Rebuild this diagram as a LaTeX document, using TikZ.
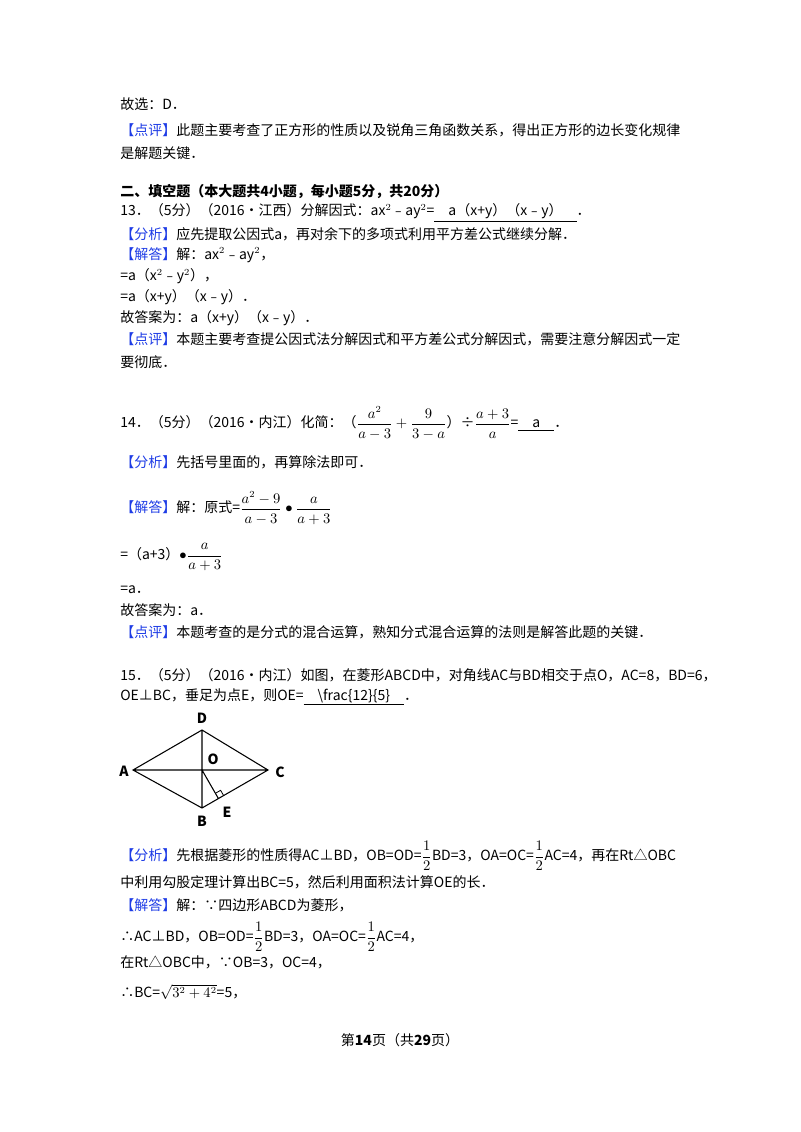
\documentclass[tikz,border=0pt]{standalone}
\usepackage{amsmath}
\usepackage{fontspec}
\setmainfont{Noto Sans CJK SC}
\definecolor{lblue}{RGB}{30,60,230}
\newcommand{\lab}[1]{\textcolor{lblue}{【#1】}}
\begin{document}
\begin{tikzpicture}[x=0.75pt,y=-0.75pt,
  tx/.style={anchor=west,inner sep=0pt,font=\fontsize{10.5}{13}\selectfont},
  pt/.style={font=\fontsize{10.5}{12}\selectfont\itshape\bfseries,inner sep=1pt}]
\useasboundingbox[fill=white] (0,0) rectangle (800,1132);
\node[tx] (l1) at (120,104) {故选：D．};
\node[tx] (l2) at (120,130) {\lab{点评}此题主要考查了正方形的性质以及锐角三角函数关系，得出正方形的边长变化规律};
\node[tx] (l3) at (120,153) {是解题关键．};
\node[tx] (l4) at (120,192) {\textbf{二、填空题（本大题共4小题，每小题5分，共20分）}};
\node[tx] (l5) at (120,213) {13．（5分）（2016•江西）分解因式：ax$^2$﹣ay$^2$=\underline{\quad a（x+y）（x﹣y）\quad}．};
\node[tx] (l6) at (120,234) {\lab{分析}应先提取公因式a，再对余下的多项式利用平方差公式继续分解．};
\node[tx] (l7) at (120,255) {\lab{解答}解：ax$^2$﹣ay$^2$，};
\node[tx] (l8) at (120,276) {=a（x$^2$﹣y$^2$），};
\node[tx] (l9) at (120,297) {=a（x+y）（x﹣y）．};
\node[tx] (l10) at (120,318) {故答案为：a（x+y）（x﹣y）．};
\node[tx] (l11) at (120,339) {\lab{点评}本题主要考查提公因式法分解因式和平方差公式分解因式，需要注意分解因式一定};
\node[tx] (l12) at (120,362) {要彻底．};
\node[tx] (l13) at (120,423) {14．（5分）（2016•内江）化简：（$\dfrac{a^2}{a-3}+\dfrac{9}{3-a}$）÷$\dfrac{a+3}{a}$=\underline{\quad a\quad}．};
\node[tx] (l14) at (120,462) {\lab{分析}先括号里面的，再算除法即可．};
\node[tx] (l15) at (120,508) {\lab{解答}解：原式=$\dfrac{a^2-9}{a-3}\bullet\dfrac{a}{a+3}$};
\node[tx] (l16) at (120,557) {=（a+3）$\bullet\dfrac{a}{a+3}$};
\node[tx] (l17) at (120,590) {=a．};
\node[tx] (l18) at (120,610) {故答案为：a．};
\node[tx] (l19) at (120,632) {\lab{点评}本题考查的是分式的混合运算，熟知分式混合运算的法则是解答此题的关键．};
\node[tx] (l20) at (120,675) {15．（5分）（2016•内江）如图，在菱形ABCD中，对角线AC与BD相交于点O，AC=8，BD=6，};
\node[tx] (l21) at (120,697) {OE⊥BC，垂足为点E，则OE=\underline{\quad\textbackslash frac\{12\}\{5\}\quad}．};
\coordinate (A) at (133,770);
\coordinate (C) at (268,770);
\coordinate (D) at (202,730);
\coordinate (B) at (202,808);
\coordinate (O) at (202,770);
\coordinate (E) at (218.4,798.5);
\coordinate (r1) at (215.4,793.3);
\coordinate (r2) at (220.6,790.3);
\coordinate (r3) at (223.6,795.5);
\draw[line width=0.8pt] (A)--(D)--(C)--(B)--cycle (A)--(C) (D)--(B) (O)--(E);
\draw[line width=0.6pt] (r1) -- (r2) -- (r3);
\node[pt] (nD) at (202,718) {D};
\node[pt] (nA) at (124,771) {A};
\node[pt] (nC) at (280,772) {C};
\node[pt] (nO) at (213,759) {O};
\node[pt] (nE) at (227,812) {E};
\node[pt] (nB) at (202,821) {B};
\node[tx] (l22) at (120,856) {\lab{分析}先根据菱形的性质得AC⊥BD，OB=OD=$\dfrac12$BD=3，OA=OC=$\dfrac12$AC=4，再在Rt△OBC};
\node[tx] (l23) at (120,882) {中利用勾股定理计算出BC=5，然后利用面积法计算OE的长．};
\node[tx] (l24) at (120,905) {\lab{解答}解：∵四边形ABCD为菱形，};
\node[tx] (l25) at (120,937) {∴AC⊥BD，OB=OD=$\dfrac12$BD=3，OA=OC=$\dfrac12$AC=4，};
\node[tx] (l26) at (120,962) {在Rt△OBC中，∵OB=3，OC=4，};
\node[tx] (l27) at (120,992) {∴BC=$\sqrt{3^2+4^2}$=5，};
\node[font=\fontsize{10.5}{13}\selectfont] (ft) at (400,1040) {第\textbf{14}页（共\textbf{29}页）};
\end{tikzpicture}
\end{document}
